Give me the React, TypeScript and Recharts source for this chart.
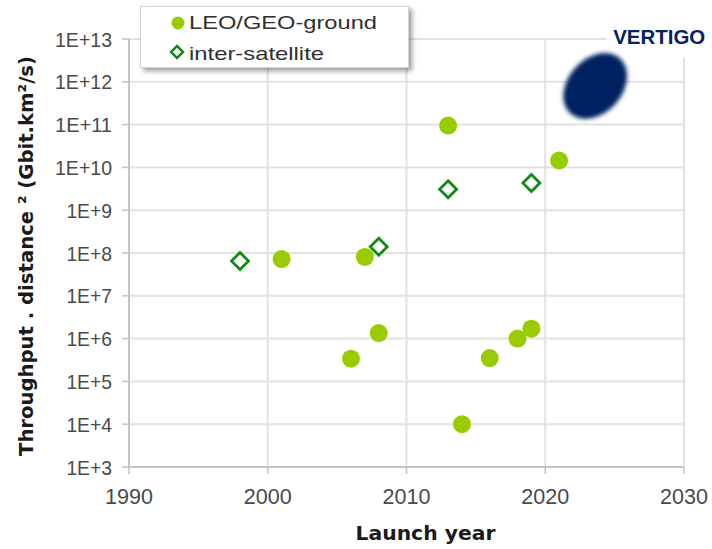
import React from 'react';
import { ScatterChart, Scatter, XAxis, YAxis, CartesianGrid, Label } from 'recharts';

const groundYears = [2001, 2006, 2007, 2008, 2013, 2014, 2016, 2018, 2019, 2021];
const groundValues = [7.2e7, 3.4e5, 8.1e7, 1.35e6, 9.5e10, 1.0e4, 3.5e5, 1.0e6, 1.7e6, 1.45e10];
const interYears = [1998, 2008, 2013, 2019];
const interValues = [6.5e7, 1.4e8, 3.1e9, 4.3e9];
const vertigoYears = [2023.6];
const vertigoValues = [8e11];
const xTicks = [1990, 2000, 2010, 2020, 2030];
const yTicks = [1e3, 1e4, 1e5, 1e6, 1e7, 1e8, 1e9, 1e10, 1e11, 1e12, 1e13];
const groundName = 'LEO/GEO-ground';
const interName = 'inter-satellite';
const vertigoName = 'VERTIGO';

const groundData = groundYears.map((x, i) => ({ x, y: groundValues[i] }));
const interData = interYears.map((x, i) => ({ x, y: interValues[i] }));
const vertigoData = vertigoYears.map((x, i) => ({ x, y: vertigoValues[i] }));

const GREEN = '#99cc00';
const DKGREEN = '#138a13';
const NAVY = '#062260';
const TICKFONT = 'Liberation Sans';
const BOLDFONT = 'DejaVu Sans';

const CircleShape = (p: any) => <circle cx={p.cx} cy={p.cy} r={9} fill={GREEN} />;
const DiamondShape = (p: any) => {
  const { cx, cy } = p;
  const d = 8.5;
  return (
    <polygon
      points={`${cx},${cy - d} ${cx + d},${cy} ${cx},${cy + d} ${cx - d},${cy}`}
      fill="#ffffff"
      stroke={DKGREEN}
      strokeWidth={2.8}
    />
  );
};
const VertigoShape = (p: any) => {
  const { cx, cy } = p;
  return (
    <g>
      <defs>
        <filter id="vblur" x="-50%" y="-50%" width="200%" height="200%">
          <feGaussianBlur stdDeviation="2" />
        </filter>
      </defs>
      <rect x={cx + 12} y={cy - 90} width={112} height={62} fill="#ffffff" />
      <ellipse cx={cx} cy={cy} rx={37} ry={27} fill={NAVY} filter="url(#vblur)" transform={`rotate(-48 ${cx} ${cy})`} />
      <text x={cx + 110} y={cy - 42} textAnchor="end" fontFamily="Liberation Sans" fontWeight="bold" fontSize={21} fill={NAVY} textLength={92} lengthAdjust="spacingAndGlyphs">
        {vertigoName}
      </text>
    </g>
  );
};

const YTick = (p: any) => {
  const { x, y, payload } = p;
  const s = `1E+${Math.round(Math.log10(payload.value))}`;
  return (
    <text x={x} y={y} dy="0.36em" textAnchor="end" fontFamily={TICKFONT} fontSize={21} fill="#4a4a4a" textLength={s.length * 11.4} lengthAdjust="spacingAndGlyphs">
      {s}
    </text>
  );
};
const XTick = (p: any) => {
  const { x, y, payload } = p;
  const s = String(payload.value);
  return (
    <text x={x} y={y} dy="0.72em" textAnchor="middle" fontFamily={TICKFONT} fontSize={22} fill="#4a4a4a" textLength={48} lengthAdjust="spacingAndGlyphs">
      {s}
    </text>
  );
};

const YLabel = (p: any) => {
  const vb = p.viewBox || { x: 0, y: 39, width: 129, height: 428 };
  const x = vb.x + 33;
  const y = vb.y + vb.height / 2 + 3;
  return (
    <text x={x} y={y} transform={`rotate(-90 ${x} ${y})`} textAnchor="middle" fontFamily={BOLDFONT} fontWeight="bold" fontSize={20} fill="#1a1a1a" textLength={400} lengthAdjust="spacingAndGlyphs">
      Throughput . distance ² (Gbit.km²/s)
    </text>
  );
};
const XLabel = (p: any) => {
  const vb = p.viewBox || { x: 129, y: 467, width: 555, height: 82 };
  const x = vb.x + vb.width / 2 + 19;
  const y = vb.y + 73;
  return (
    <text x={x} y={y} textAnchor="middle" fontFamily={BOLDFONT} fontWeight="bold" fontSize={20} fill="#1a1a1a" textLength={140} lengthAdjust="spacingAndGlyphs">
      Launch year
    </text>
  );
};

const LegendBox = () => (
  <div
    style={{
      position: 'absolute',
      left: 140,
      top: 6,
      width: 267,
      height: 60,
      background: '#ffffff',
      border: '1px solid #d4d4d4',
      boxShadow: '3px 3px 5px rgba(0,0,0,0.4)',
    }}
  >
    <svg width={267} height={60} style={{ display: 'block' }}>
      <circle cx={37} cy={16} r={6.5} fill={GREEN} />
      <text x={48} y={22} fontFamily={TICKFONT} fontSize={19} fill="#303030" textLength={188} lengthAdjust="spacingAndGlyphs">
        {groundName}
      </text>
      <polygon points="36,39 42,45 36,51 30,45" fill="#ffffff" stroke={DKGREEN} strokeWidth={2.5} />
      <text x={48} y={53} fontFamily={TICKFONT} fontSize={19} fill="#303030" textLength={135} lengthAdjust="spacingAndGlyphs">
        {interName}
      </text>
    </svg>
  </div>
);

export default function App() {
  return (
    <div style={{ position: 'absolute', left: 0, top: 0, width: 712, height: 549, background: '#ffffff' }}>
      <ScatterChart width={712} height={549} margin={{ top: 39, right: 28, bottom: 0, left: 0 }}>
        <CartesianGrid stroke="#e2e2e2" strokeWidth={2} />
        <XAxis
          type="number"
          dataKey="x"
          domain={[1990, 2030]}
          ticks={xTicks}
          height={82}
          tickSize={7}
          tickMargin={14}
          tick={<XTick />}
          axisLine={{ stroke: '#c4c4c4', strokeWidth: 2 }}
          tickLine={{ stroke: '#c4c4c4', strokeWidth: 1.5 }}
        >
          <Label content={<XLabel />} />
        </XAxis>
        <YAxis
          type="number"
          dataKey="y"
          scale="log"
          domain={[1e3, 1e13]}
          ticks={yTicks}
          width={129}
          tickSize={7}
          tickMargin={10}
          tick={<YTick />}
          axisLine={{ stroke: '#c4c4c4', strokeWidth: 2 }}
          tickLine={{ stroke: '#c4c4c4', strokeWidth: 1.5 }}
        >
          <Label content={<YLabel />} />
        </YAxis>
        <Scatter name={groundName} data={groundData} shape={<CircleShape />} isAnimationActive={false} />
        <Scatter name={interName} data={interData} shape={<DiamondShape />} isAnimationActive={false} />
        <Scatter name={vertigoName} data={vertigoData} shape={<VertigoShape />} isAnimationActive={false} />
      </ScatterChart>
      <LegendBox />
    </div>
  );
}
